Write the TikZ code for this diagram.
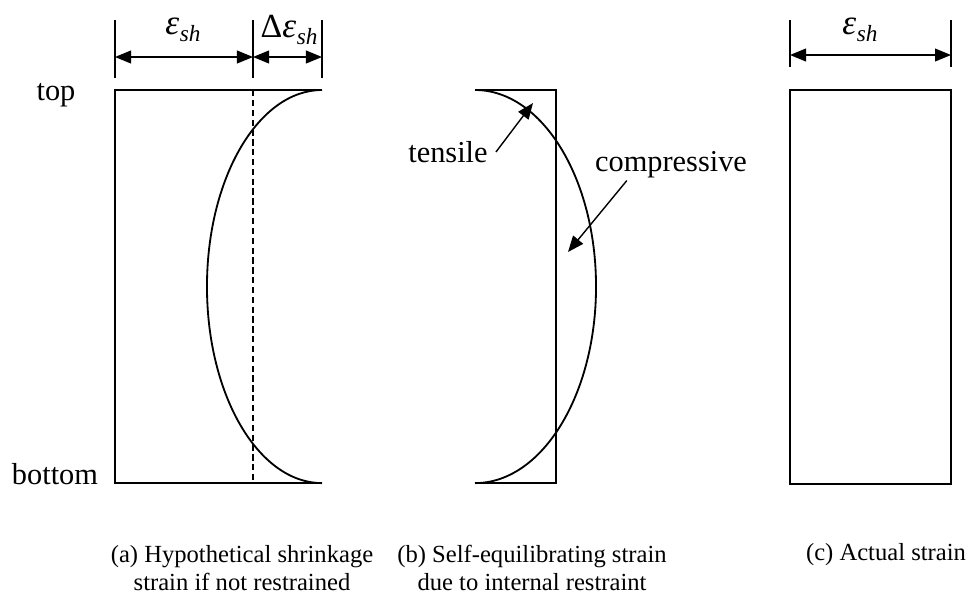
\documentclass[tikz,border=0pt]{standalone}
\usepackage{fontspec}
\setmainfont{Liberation Serif}
\usetikzlibrary{arrows.meta,positioning}
\newcommand{\epssh}{{\fontsize{25}{26}\selectfont\textit{ε}}\kern0.5pt\raisebox{-0.5ex}{\fontsize{16.5}{17}\selectfont\textit{sh}}}

\begin{document}
\begin{tikzpicture}[x=0.025cm,y=-0.025cm]
   \tikzstyle{every node}=[inner sep=0pt]
   \tikzstyle{lbl}=[font=\fontsize{21.6}{24}\selectfont]
   \tikzstyle{captxt}=[font=\fontsize{17.5}{19.8}\selectfont,align=center]
   \tikzstyle{outline}=[line width=1.3pt]
   \tikzstyle{ext}=[line width=1pt]
   \tikzstyle{dim}=[line width=1pt,{Triangle[length=4mm,width=3.2mm]}-{Triangle[length=4mm,width=3.2mm]}]
   \tikzstyle{pointer}=[line width=1pt,-{Triangle[length=4mm,width=3.2mm]}]

   \useasboundingbox (0,0) rectangle (974,601);

   % (a) hypothetical shrinkage
   \coordinate (atl) at (115,90) ;
   \coordinate (abl) at (115,483) ;
   \coordinate (atr) at (322,90) ;
   \coordinate (abr) at (322,483) ;
   \coordinate (adt) at (253,90) ;
   \coordinate (adb) at (253,483) ;
   \draw [outline] (atr) -- (atl) -- (abl) -- (abr) ;
   \draw [ext,dash pattern=on 4.5pt off 2.5pt] (adt) -- (adb) ;
   \draw [outline] (atr) arc [start angle=90,end angle=270,x radius=2.875cm,y radius=4.9125cm] ;

   \node (top) [lbl] at (56,95) {top} ;
   \node (bot) [lbl] at (55,474) {bottom} ;

   \coordinate (ea1) at (115,20) ; \coordinate (ea1b) at (115,78) ;
   \coordinate (ea2) at (253,20) ; \coordinate (ea2b) at (253,78) ;
   \coordinate (ea3) at (322,20) ; \coordinate (ea3b) at (322,78) ;
   \draw [ext] (ea1) -- (ea1b) ;
   \draw [ext] (ea2) -- (ea2b) ;
   \draw [ext] (ea3) -- (ea3b) ;
   \coordinate (da1) at (115,57) ; \coordinate (da2) at (253,57) ; \coordinate (da3) at (322,57) ;
   \draw [dim] (da1) -- (da2) ;
   \draw [dim] (da2) -- (da3) ;
   \node (esh) [lbl] at (183,30) {\epssh} ;
   \node (desh) [lbl] at (289,30) {{\fontsize{24}{26}\selectfont Δ}\epssh} ;

   % (b) self-equilibrating strain
   \coordinate (btl) at (475,90) ;
   \coordinate (btr) at (556,90) ;
   \coordinate (bbr) at (556,483) ;
   \coordinate (bbl) at (475,483) ;
   \draw [outline] (btl) -- (btr) -- (bbr) -- (bbl) ;
   \draw [outline] (btl) arc [start angle=90,end angle=-90,x radius=3.025cm,y radius=4.9125cm] ;

   \node (tens) [lbl] at (448,152) {tensile} ;
   \node (comp) [lbl] at (671,165) {compressive} ;
   \coordinate (ttip) at (533,103) ;
   \coordinate (ctip) at (568,252) ;
   \draw [pointer] ([xshift=0.2cm]tens.east) -- (ttip) ;
   \draw [pointer] ([xshift=0.8cm,yshift=-0.05cm]comp.south west) -- (ctip) ;

   % (c) actual strain
   \coordinate (ctl) at (790,90) ;
   \coordinate (cbr) at (951,484) ;
   \draw [outline] (ctl) rectangle (cbr) ;
   \coordinate (ec1) at (790,20) ; \coordinate (ec1b) at (790,67) ;
   \coordinate (ec2) at (951,20) ; \coordinate (ec2b) at (951,67) ;
   \draw [ext] (ec1) -- (ec1b) ;
   \draw [ext] (ec2) -- (ec2b) ;
   \coordinate (dc1) at (790,55) ; \coordinate (dc2) at (951,55) ;
   \draw [dim] (dc1) -- (dc2) ;
   \node (csh) [lbl] at (860,30) {\epssh} ;

   % captions
   \node (capa) [captxt] at (242,568) {(a) Hypothetical shrinkage\\strain if not restrained} ;
   \node (capb) [captxt] at (532,568) {(b) Self-equilibrating strain\\due to internal restraint} ;
   \node (capc) [captxt] at (886,555) {(c) Actual strain} ;

\end{tikzpicture}
\end{document}
